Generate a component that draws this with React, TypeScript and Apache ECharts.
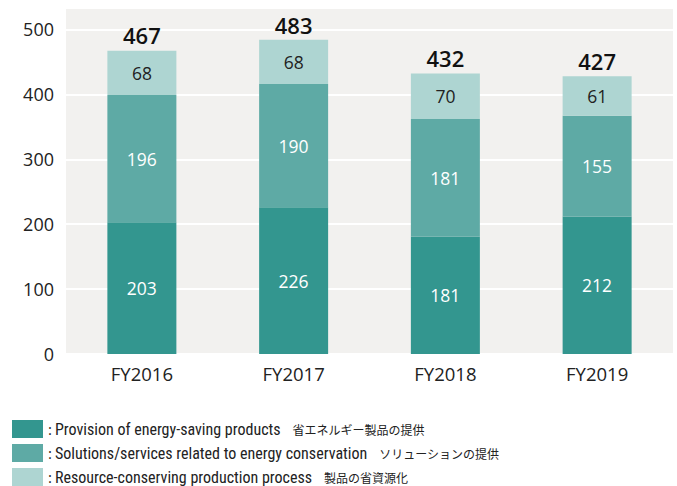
import React, { useEffect, useRef } from "react";
import * as echarts from "echarts";

const categories = ["FY2016", "FY2017", "FY2018", "FY2019"];
const provision = [203, 226, 181, 212];
const solutions = [196, 190, 181, 155];
const resource = [68, 68, 70, 61];
const totals = [467, 483, 432, 427];
const yTicks = [0, 100, 200, 300, 400, 500];

const seriesNamesEn = [
  "Provision of energy-saving products",
  "Solutions/services related to energy conservation",
  "Resource-conserving production process",
];
const seriesNamesJa = ["省エネルギー製品の提供", "ソリューションの提供", "製品の省資源化"];
const colors = ["#33968f", "#5eaaa5", "#aed5d2"];

const FONT = "'Open Sans', 'Noto Sans', sans-serif";

export default function App() {
  const ref = useRef<HTMLDivElement>(null);
  useEffect(() => {
    if (!ref.current) return;
    const chart = echarts.init(ref.current, null, { renderer: "svg" });
    const innerLabel = (color: string) => ({
      show: true,
      position: "inside" as const,
      color,
      fontSize: 17.5,
      fontFamily: FONT,
    });
    const data = [provision, solutions, resource];
    const legends = seriesNamesEn.map((name, i) => ({
      orient: "horizontal",
      left: 12,
      top: 420 + i * 24,
      padding: 0,
      itemWidth: 31,
      itemHeight: 18,
      itemGap: 4,
      icon: "rect",
      selectedMode: false,
      data: [name],
      formatter: (n: string) => {
        const k = seriesNamesEn.indexOf(n);
        return "{c|:}{en|" + n + "}{ja|" + seriesNamesJa[k] + "}";
      },
      textStyle: {
        rich: {
          c: { fontSize: 15, color: "#222", fontFamily: FONT, padding: [0, 3, 0, 0] },
          en: {
            fontSize: 16,
            color: "#222",
            fontFamily: "'Liberation Sans Narrow', 'Roboto Condensed', 'Noto Sans', sans-serif",
            padding: [0, 12, 0, 0],
          },
          ja: { fontSize: 12, color: "#222", fontFamily: "'Noto Sans CJK JP', sans-serif" },
        },
      },
    }));
    chart.setOption({
      animation: false,
      textStyle: { fontFamily: FONT },
      grid: {
        left: 66,
        right: 4,
        top: 8,
        bottom: 132,
        show: true,
        backgroundColor: "#f2f1ef",
        borderWidth: 0,
      },
      legend: legends,
      xAxis: {
        type: "category",
        data: categories,
        axisLine: { show: false },
        axisTick: { show: false },
        axisLabel: { color: "#222", fontSize: 18.5, margin: 10, fontFamily: FONT },
      },
      yAxis: {
        type: "value",
        min: 0,
        max: 533,
        interval: 100,
        axisLine: { show: false },
        axisTick: { show: false },
        axisLabel: {
          color: "#222",
          fontSize: 18,
          margin: 12,
          fontFamily: FONT,
          showMaxLabel: false,
          formatter: (v: number) => (yTicks.includes(v) ? String(v) : ""),
        },
        splitLine: { lineStyle: { color: "#ffffff", width: 2 } },
      },
      series: [
        ...data.map((d, i) => ({
          name: seriesNamesEn[i],
          type: "bar",
          stack: "total",
          data: d,
          barWidth: 69,
          itemStyle: { color: colors[i] },
          label: innerLabel(i === 2 ? "#222" : "#ffffff"),
        })),
        {
          name: "total",
          type: "line",
          data: totals,
          symbol: "circle",
          symbolSize: 1,
          showSymbol: true,
          itemStyle: { color: "rgba(0,0,0,0)" },
          lineStyle: { color: "rgba(0,0,0,0)", width: 0 },
          label: {
            show: true,
            position: "top",
            distance: 4,
            color: "#111",
            fontSize: 22,
            fontWeight: 600,
            fontFamily: FONT,
          },
          z: 10,
        },
      ],
    });
    return () => chart.dispose();
  }, []);
  return <div ref={ref} style={{ width: 677, height: 486, position: "absolute", left: 0, top: 0 }} />;
}
